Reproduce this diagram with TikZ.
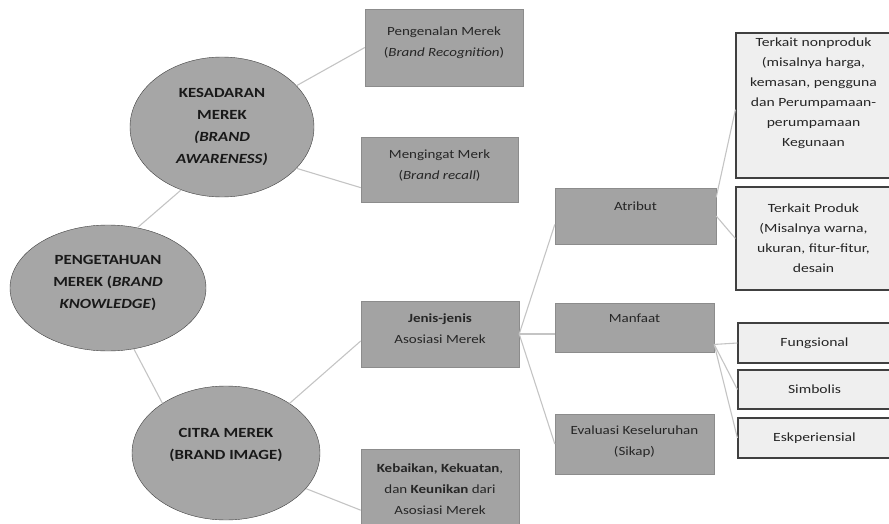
\documentclass[tikz,border=0pt]{standalone}
\usepackage{fontspec}
\setmainfont[FakeStretch=1.2]{Carlito}
\newfontfamily\leaffont[FakeStretch=1.25]{Carlito}
\usetikzlibrary{shapes.geometric}
\definecolor{ovalgray}{HTML}{A6A6A6}
\definecolor{boxgray}{HTML}{A3A3A3}
\definecolor{leafgray}{HTML}{EFEFEF}
\definecolor{edgegray}{HTML}{C4C4C4}
\tikzset{
  bkoval/.style={draw=black!75, ellipse, fill=ovalgray, inner sep=0pt, font=\fontsize{14}{22}\selectfont\bfseries, align=center, text=black!90},
  bkbox/.style={draw=black!45, rectangle, fill=boxgray, inner sep=0pt, font=\fontsize{12.5}{21}\selectfont, align=center, text=black!85},
  bkleaf/.style={draw=black!75, rectangle, line width=1.2pt, fill=leafgray, inner sep=0pt, font=\leaffont\fontsize{12.5}{20}\selectfont, align=center, text=black!85},
  bkline/.style={edgegray, line width=1.1pt},
  lift/.style={text depth=#1}
}

\begin{document}
\begin{tikzpicture}[x=1pt,y=-1pt]
    \useasboundingbox (0,0) rectangle (889,524);
    \clip (0,0) rectangle (889,524);

    \node[bkoval, minimum width=196, minimum height=126, lift=13pt] (know) at (108,288) {PENGETAHUAN\\MEREK (\textit{BRAND}\\\textit{KNOWLEDGE})};
    \node[bkoval, minimum width=184, minimum height=140] (aware) at (222,127) {KESADARAN\\MEREK\\\textit{(BRAND}\\\textit{AWARENESS)}};
    \node[bkoval, minimum width=188, minimum height=134, lift=18pt] (image) at (226,453) {CITRA MEREK\\(BRAND IMAGE)};

    \node[bkbox, minimum width=158, minimum height=77, lift=12pt] (recog) at (444,47.5) {Pengenalan Merek\\(\textit{Brand Recognition})};
    \node[bkbox, minimum width=157, minimum height=65, lift=10pt] (recall) at (439.5,169.5) {Mengingat Merk\\(\textit{Brand recall})};
    \node[bkbox, minimum width=158, minimum height=66, lift=10pt] (types) at (440,334) {\textbf{Jenis-jenis}\\Asosiasi Merek};
    \node[bkbox, minimum width=158, minimum height=80] (quality) at (440,489) {\textbf{Kebaikan, Kekuatan},\\dan \textbf{Keunikan} dari\\Asosiasi Merek};

    \node[bkbox, minimum width=161, minimum height=56, lift=19pt] (attr) at (635.5,216) {Atribut};
    \node[bkbox, minimum width=159, minimum height=49, lift=19pt] (benefit) at (634.5,327.5) {Manfaat};
    \node[bkbox, minimum width=159, minimum height=60, lift=6pt] (eval) at (634.5,444) {Evaluasi Keseluruhan\\(Sikap)};

    \node[bkleaf, minimum width=155, minimum height=145, lift=27pt] (nonprod) at (813.5,105.5) {Terkait nonproduk\\(misalnya harga,\\kemasan, pengguna\\dan Perumpamaan-\\perumpamaan\\Kegunaan};
    \node[bkleaf, minimum width=155, minimum height=103] (prod) at (813.5,238.5) {Terkait Produk\\(Misalnya warna,\\ukuran, fitur-fitur,\\desain};
    \node[bkleaf, minimum width=153, minimum height=40] (func) at (814.5,343) {Fungsional};
    \node[bkleaf, minimum width=153, minimum height=39] (symb) at (814.5,389.5) {Simbolis};
    \node[bkleaf, minimum width=153, minimum height=40] (exper) at (814.5,438) {Eskperiensial};

    \draw[bkline] (know.64) -- (aware.237);
    \draw[bkline] (know.293) -- (image.142);
    \draw[bkline] (aware.29) -- (recog.west);
    \draw[bkline] (aware.331) -- (recall.193);
    \draw[bkline] (image.38) -- (types.185);
    \draw[bkline] (image.336) -- (quality.195);

    \draw[bkline] (types.east) -- (attr.186);
    \draw[bkline] (types.east) -- (types.east -| benefit.west);
    \draw[bkline] (types.east) -- (eval.west);

    \draw[bkline] (attr.13) -- (nonprod.183);
    \draw[bkline] (attr.east) -- (prod.west);

    \draw[bkline] (benefit.348) -- (func.west);
    \draw[bkline] (benefit.348) -- (symb.west);
    \draw[bkline] (benefit.348) -- (exper.west);
  \end{tikzpicture}
\end{document}
